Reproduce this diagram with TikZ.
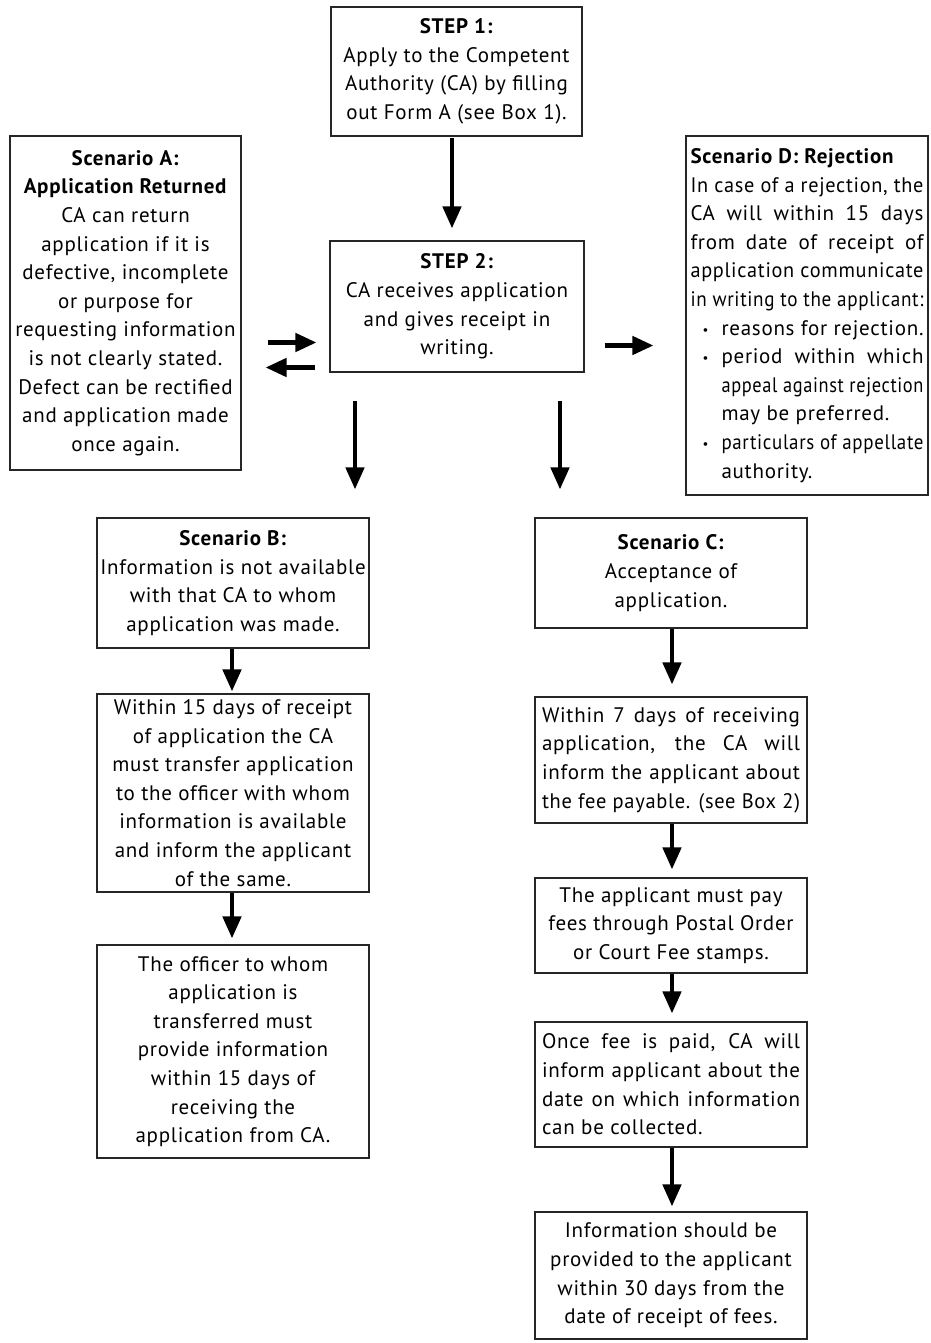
\documentclass[tikz,border=0pt]{standalone}
\usepackage{fontspec}
\setmainfont{PT Sans}[LetterSpace=3.5]
\usepackage{graphicx}
\usetikzlibrary{arrows.meta}
\newsavebox\fitbox
\newdimen\fitdim
\newcommand\fitline[2]{\sbox\fitbox{#2}\fitdim=\wd\fitbox\relax
  \ifdim\fitdim>#1\relax\pgfmathsetmacro\fitratio{#1/\the\fitdim}\scalebox{\fitratio}[1]{\usebox\fitbox}\else\makebox[#1][s]{#2}\fi}
\newcommand\bodyfont{\fontsize{21}{28.6}\selectfont}
\newcommand\bul{\makebox[31pt][l]{\hspace{12pt}\raisebox{1pt}{\fontsize{13}{13}\selectfont\textbullet}}}
\begin{document}
\begin{tikzpicture}[x=1pt,y=-1pt,
  box/.style={draw=black!85, line width=1.1pt, inner sep=0pt, align=center, font=\bodyfont},
  boxl/.style={box, align=left},
  bigarrow/.style={line width=4.5pt, -{Triangle[length=22pt,width=18pt]}},
  sidearrow/.style={line width=4.5pt, -{Triangle[length=21pt,width=18pt]}},
]
\useasboundingbox (0,0) rectangle (930,1343);
\fill[white] (0,0) rectangle (930,1343);

\node[box, minimum width=251pt, minimum height=129pt] (s1) at (456.5,71.5)
  {\textbf{STEP 1:}\\Apply to the Competent\\Authority (CA) by filling\\out Form A (see Box 1).};
\node[box, minimum width=254pt, minimum height=131pt] (s2) at (457,306.5)
  {\textbf{STEP 2:}\\CA receives application\\and gives receipt in\\writing.};
\node[box, minimum width=231pt, minimum height=334pt] (a) at (125.5,303)
  {\textbf{Scenario A:}\\\textbf{Application Returned}\\CA can return\\application if it is\\defective, incomplete\\or purpose for\\requesting information\\is not clearly stated.\\Defect can be rectified\\and application made\\once again.};
\node[boxl, minimum width=242pt, minimum height=359pt] (d) at (807,315.5)
  {\textbf{Scenario D: Rejection}\\
   \fitline{233pt}{In case of a rejection, the}\\
   \fitline{233pt}{CA will within 15 days}\\
   \fitline{233pt}{from date of receipt of}\\
   \fitline{233pt}{application communicate}\\
   \fitline{233pt}{in writing to the applicant:}\\
   \bul\fitline{202pt}{reasons for rejection.}\\
   \bul\fitline{202pt}{period within which}\\
   \hspace{31pt}\fitline{202pt}{appeal against rejection}\\
   \hspace{31pt}may be preferred.\\
   \bul\fitline{202pt}{particulars of appellate}\\
   \hspace{31pt}authority.};

\node[box, minimum width=272pt, minimum height=130pt] (b) at (233,583)
  {\textbf{Scenario B:}\\Information is not available\\with that CA to whom\\application was made.};
\node[box, minimum width=272pt, minimum height=198pt] (b2) at (233,793)
  {Within 15 days of receipt\\of application the CA\\must transfer application\\to the officer with whom\\information is available\\and inform the applicant\\of the same.};
\node[box, minimum width=272pt, minimum height=213pt] (b3) at (233,1051.5)
  {The officer to whom\\application is\\transferred must\\provide information\\within 15 days of\\receiving the\\application from CA.};

\node[box, minimum width=272pt, minimum height=110pt] (c) at (671,573)
  {\textbf{Scenario C:}\\Acceptance of\\application.};
\node[boxl, minimum width=272pt, minimum height=126pt] (c2) at (671,760)
  {\fitline{258pt}{Within 7 days of receiving}\\
   \fitline{258pt}{application, the CA will}\\
   \fitline{258pt}{inform the applicant about}\\
   \fitline{258pt}{the fee payable. (see Box 2)}};
\node[box, minimum width=272pt, minimum height=95pt] (c3) at (671,925.5)
  {The applicant must pay\\fees through Postal Order\\or Court Fee stamps.};
\node[boxl, minimum width=272pt, minimum height=125pt] (c4) at (671,1084.5)
  {\fitline{258pt}{Once fee is paid, CA will}\\
   \fitline{258pt}{inform applicant about the}\\
   \fitline{258pt}{date on which information}\\
   can be collected.};
\node[box, minimum width=272pt, minimum height=127pt] (c5) at (671,1275.5)
  {Information should be\\provided to the applicant\\within 30 days from the\\date of receipt of fees.};

% connectors
\draw[bigarrow, shorten <=1pt, shorten >=12pt] ([xshift=-4.5pt]s1.south) -- ([xshift=-4.5pt]s1.south |- s2.north);
\draw[sidearrow, shorten <=26pt, shorten >=13pt] ([yshift=-36pt]a.east |- s2.west) -- ([yshift=-36pt]s2.west);
\draw[sidearrow, shorten <=14pt, shorten >=24pt] ([yshift=-61pt]s2.west) -- ([yshift=-61pt]a.east |- s2.west);
\draw[sidearrow, shorten <=20pt, shorten >=32pt] ([yshift=-39pt]s2.east) -- ([yshift=-39pt]s2.east -| d.west);
\draw[bigarrow, shorten <=28pt, shorten >=28pt] ([xshift=-102pt]s2.south) -- ([xshift=-102pt]s2.south |- b.north);
\draw[bigarrow, shorten <=28pt, shorten >=28pt] ([xshift=103pt]s2.south) -- ([xshift=103pt]s2.south |- c.north);
\draw[bigarrow, shorten >=2pt] ([xshift=-1pt]b.south) -- ([xshift=-1pt]b2.north);
\draw[bigarrow, shorten >=6pt] ([xshift=-1pt]b2.south) -- ([xshift=-1pt]b3.north);
\draw[bigarrow, shorten >=12pt] ([xshift=1pt]c.south) -- ([xshift=1pt]c2.north);
\draw[bigarrow, shorten >=8pt] ([xshift=1pt]c2.south) -- ([xshift=1pt]c3.north);
\draw[bigarrow, shorten >=8pt] ([xshift=1pt]c3.south) -- ([xshift=1pt]c4.north);
\draw[bigarrow, shorten >=5pt] ([xshift=1pt]c4.south) -- ([xshift=1pt]c5.north);
\end{tikzpicture}
\end{document}
